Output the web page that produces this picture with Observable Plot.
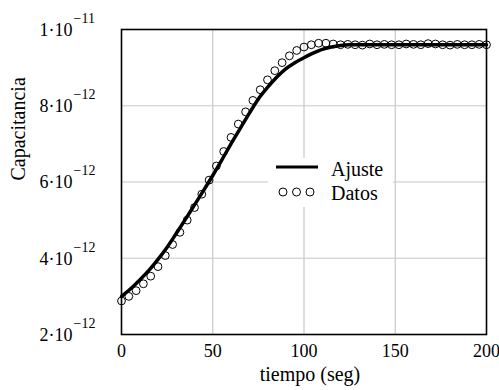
<!DOCTYPE html>
<html>
<head>
<meta charset="utf-8">
<script src="https://cdn.jsdelivr.net/npm/d3@7"></script>
<script src="https://cdn.jsdelivr.net/npm/@observablehq/plot@0.6"></script>
<style>
  body { margin: 0; background: #fff; }
  svg { display: block; }
  svg text { font-family: "Liberation Serif", "DejaVu Serif", serif !important; }
</style>
</head>
<body>
<div id="chart"></div>
<script>
// Fitted curve ("Ajuste"): time (s) and capacitance (units of 1e-12 F)
const fitTime = [0, 5, 10, 15, 20, 25, 30, 35, 40, 45, 50, 55, 60, 65, 70, 75, 80, 85, 90, 95, 100, 105, 110, 115, 120, 125, 130, 140, 150, 160, 170, 180, 190, 200];
const fitCap  = [3.0, 3.2, 3.43, 3.68, 3.97, 4.29, 4.65, 5.02, 5.4, 5.78, 6.17, 6.58, 7.0, 7.4, 7.8, 8.18, 8.48, 8.75, 8.97, 9.13, 9.26, 9.38, 9.48, 9.54, 9.58, 9.6, 9.6, 9.6, 9.6, 9.6, 9.6, 9.6, 9.6, 9.6];

// Measured data ("Datos")
const dataTime = [0, 4, 8, 12, 16, 20, 24, 28, 32, 36, 40, 44, 48, 52, 56, 60, 64, 68, 72, 76, 80, 84, 88, 92, 96, 100, 104, 108, 112, 116, 120, 124, 128, 132, 136, 140, 144, 148, 152, 156, 160, 164, 168, 172, 176, 180, 184, 188, 192, 196, 200];
const dataCap  = [2.88, 3.0, 3.15, 3.33, 3.53, 3.78, 4.07, 4.36, 4.68, 5.0, 5.33, 5.68, 6.05, 6.42, 6.8, 7.17, 7.52, 7.84, 8.14, 8.42, 8.68, 8.92, 9.13, 9.31, 9.45, 9.54, 9.6, 9.64, 9.64, 9.62, 9.6, 9.61, 9.6, 9.59, 9.62, 9.6, 9.61, 9.6, 9.6, 9.62, 9.61, 9.6, 9.63, 9.62, 9.6, 9.59, 9.61, 9.6, 9.6, 9.61, 9.6];

// Axes
const xTicks = [0, 50, 100, 150, 200];
const yTicks = [2e-12, 4e-12, 6e-12, 8e-12, 1e-11];
const yMantissa = ["2", "4", "6", "8", "1"];
const yExponent = ["\u221212", "\u221212", "\u221212", "\u221212", "\u221211"];
const xTitle = "tiempo (seg)";
const yTitle = "Capacitancia";
const legendLabels = ["Ajuste", "Datos"];

const fit = fitTime.map((t, i) => ({t, c: fitCap[i] * 1e-12}));
const data = dataTime.map((t, i) => ({t, c: dataCap[i] * 1e-12}));

const font = "Liberation Serif, DejaVu Serif, serif";

const plot = Plot.plot({
  width: 499,
  height: 390,
  marginLeft: 121,
  marginRight: 13,
  marginTop: 29,
  marginBottom: 56,
  style: {fontFamily: font, fontSize: "18px", color: "black", background: "white", overflow: "visible"},
  x: {domain: [0, 200]},
  y: {domain: [2e-12, 1e-11], axis: null},
  marks: [
    Plot.gridX(xTicks.slice(1, -1), {stroke: "#c8c8c8", strokeOpacity: 1, strokeWidth: 1.2}),
    Plot.gridY(yTicks.slice(1, -1), {stroke: "#c8c8c8", strokeOpacity: 1, strokeWidth: 1.2}),
    Plot.line(fit, {x: "t", y: "c", stroke: "black", strokeWidth: 3.5, curve: "monotone-x"}),
    Plot.dot(data, {x: "t", y: "c", r: 3.9, stroke: "black", strokeWidth: 1, fill: "none"}),
    Plot.frame({stroke: "black", strokeWidth: 1.6}),
    Plot.axisX(xTicks, {tickSize: 0, tickPadding: 10, label: null, fontSize: 18, tickFormat: d => String(d)}),
    Plot.text(yTicks, {y: d => d, text: (d, i) => yMantissa[i] + "\u00b710", frameAnchor: "left", textAnchor: "end", dx: -49, dy: 0.5, fontSize: 18}),
    Plot.text(yTicks, {y: d => d, text: (d, i) => yExponent[i], frameAnchor: "left", textAnchor: "start", dx: -48, dy: -11, fontSize: 14}),
    Plot.text([xTitle], {text: d => d, frameAnchor: "bottom", dy: 46, dx: 6, fontSize: 20}),
    Plot.text([yTitle], {text: d => d, frameAnchor: "left", rotate: -90, dx: -102.5, dy: -1.5, fontSize: 20})
  ]
});

// Legend box inside the plot
const svg = d3.select(plot);
const lg = svg.append("g").attr("font-size", 20).attr("text-anchor", "start");
lg.append("rect").attr("x", 268).attr("y", 158).attr("width", 125).attr("height", 49).attr("fill", "white");
lg.append("line").attr("x1", 276).attr("x2", 318).attr("y1", 167).attr("y2", 167).attr("stroke", "black").attr("stroke-width", 3);
[283, 296.5, 310].forEach(cx => lg.append("circle").attr("cx", cx).attr("cy", 192).attr("r", 4).attr("fill", "none").attr("stroke", "black"));
lg.append("text").attr("x", 331).attr("y", 175.5).attr("text-anchor", "start").text(legendLabels[0]);
lg.append("text").attr("x", 331).attr("y", 200).attr("text-anchor", "start").text(legendLabels[1]);

document.getElementById("chart").appendChild(plot);
</script>
</body>
</html>
